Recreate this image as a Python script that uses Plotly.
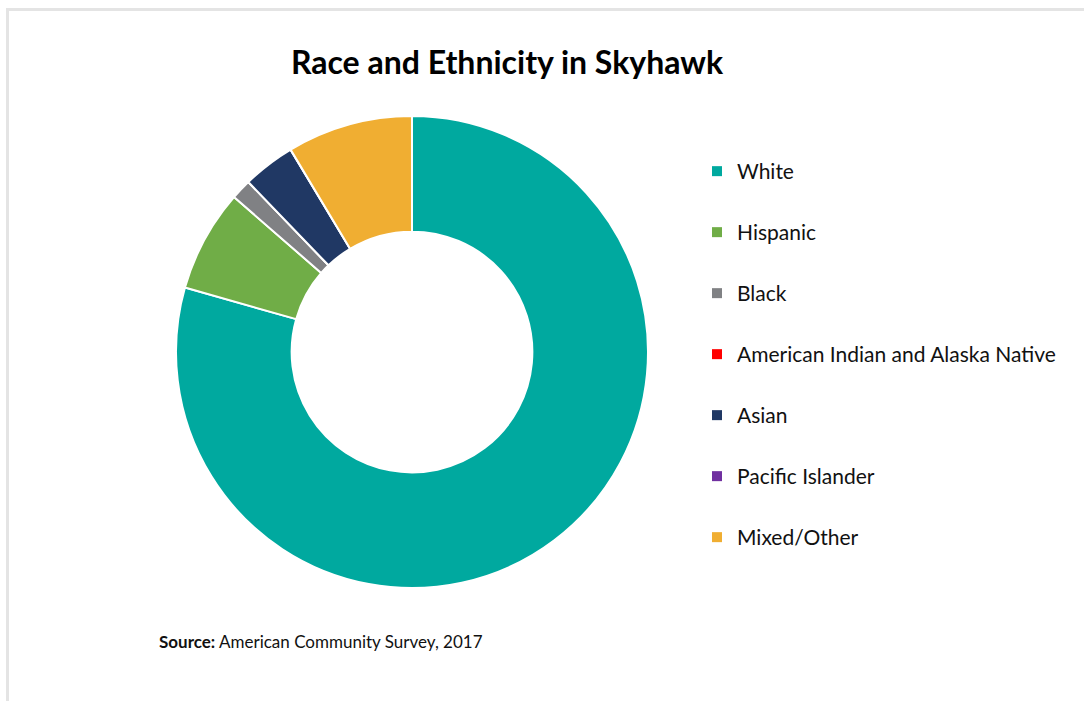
import plotly.graph_objects as go

categories = ["White", "Hispanic", "Black", "American Indian and Alaska Native",
              "Asian", "Pacific Islander", "Mixed/Other"]
shares = [79.4, 7.0, 1.4, 0.0, 3.6, 0.0, 8.6]
colors = ["#00A99F", "#70AD47", "#808184", "#FF0000", "#203864", "#7030A0", "#F0AE32"]

title_text = "Race and Ethnicity in Skyhawk"
source_text = "<b>Source:</b> American Community Survey, 2017"

W, H = 1084, 701
FONT = "Lato"

fig = go.Figure()
fig.add_trace(go.Pie(
    labels=categories, values=shares, sort=False, direction="clockwise",
    rotation=0, hole=0.51, textinfo="none", showlegend=False,
    marker=dict(colors=colors, line=dict(color="white", width=2)),
    domain=dict(x=[176 / W, 648 / W], y=[113 / H, 585 / H]),
))

# legend entries (one per category)
for cat, col in zip(categories, colors):
    fig.add_trace(go.Scatter(
        x=[None], y=[None], mode="markers", name=cat, legendgroup=cat,
        marker=dict(symbol="square", size=10, color=col),
    ))

fig.update_layout(
    width=W, height=H,
    margin=dict(l=0, r=0, t=0, b=0),
    paper_bgcolor="white", plot_bgcolor="white",
    font=dict(family=FONT, color="#111111"),
    xaxis=dict(visible=False), yaxis=dict(visible=False),
    title=dict(text="<b>" + title_text + "</b>", x=507 / W, xanchor="center",
               y=1 - 63 / H, yanchor="middle",
               font=dict(family=FONT, size=32, color="#000000")),
    legend=dict(x=697 / W, xanchor="left", y=1 - 151 / H, yanchor="top",
                font=dict(family=FONT, size=21, color="#111111"),
                tracegroupgap=30.7, bgcolor="rgba(0,0,0,0)"),
    annotations=[dict(text=source_text, x=157 / W, xanchor="left",
                      y=1 - 641 / H, yanchor="middle", xref="paper", yref="paper",
                      showarrow=False, font=dict(family=FONT, size=17, color="#111111"))],
    shapes=[
        dict(type="line", xref="paper", yref="paper", x0=6 / W, x1=1,
             y0=1 - 9.5 / H, y1=1 - 9.5 / H, line=dict(color="#E4E4E4", width=3)),
        dict(type="line", xref="paper", yref="paper", x0=7.5 / W, x1=7.5 / W,
             y0=0, y1=1 - 8 / H, line=dict(color="#E4E4E4", width=3)),
    ],
)

fig.write_html("out.html", config={"displayModeBar": False},
               post_script="document.body.style.margin='0';")
